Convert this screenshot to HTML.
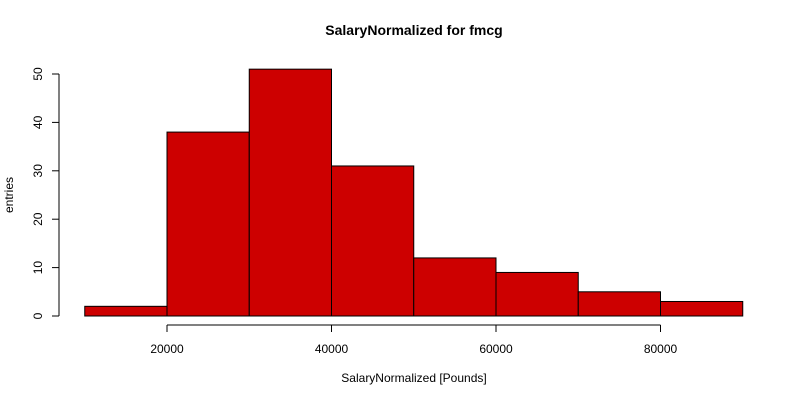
<!DOCTYPE html>
<html><head><meta charset="utf-8"><style>body{margin:0;background:#fff}svg{display:block;font-family:"Liberation Sans",sans-serif}</style></head>
<body>
<svg id="chart" width="800" height="400" xmlns="http://www.w3.org/2000/svg">
<text x="414" y="35" text-anchor="middle" font-size="14" font-weight="bold">SalaryNormalized for fmcg</text>
<text x="414" y="382" text-anchor="middle" font-size="12">SalaryNormalized [Pounds]</text>
<text transform="translate(13,195) rotate(-90)" text-anchor="middle" font-size="12">entries</text>
<g id="bars"></g><g id="xaxis"></g><g id="yaxis"></g>
</svg>
<script>
const binStarts=[10000,20000,30000,40000,50000,60000,70000,80000];
const binWidth=10000;
const counts=[2,38,51,31,12,9,5,3];
const xTicks=[20000,40000,60000,80000];
const yTicks=[0,10,20,30,40,50];
const NS="http://www.w3.org/2000/svg";
const x=v=>167+(v-20000)*(164.5/20000);
const y=v=>316-v*4.84;
function mk(t,a,p){const e=document.createElementNS(NS,t);for(const k in a)e.setAttribute(k,a[k]);p.appendChild(e);return e;}
const bars=document.getElementById('bars');
binStarts.forEach((s,i)=>{
 const r=mk('rect',{x:x(s),y:y(counts[i]),width:x(s+binWidth)-x(s),height:y(0)-y(counts[i]),fill:'#cd0000',stroke:'#000','stroke-width':1},bars);
 
 
});
const xa=document.getElementById('xaxis');
mk('line',{x1:x(xTicks[0]),x2:x(xTicks[xTicks.length-1]),y1:325,y2:325,stroke:'#000'},xa);
xTicks.forEach(t=>{
 mk('line',{x1:x(t),x2:x(t),y1:325,y2:332,stroke:'#000'},xa);
 const tx=mk('text',{x:x(t),y:353,'text-anchor':'middle','font-size':12},xa);tx.textContent=t;
 
 
});
const ya=document.getElementById('yaxis');
mk('line',{x1:59,x2:59,y1:y(0),y2:y(50),stroke:'#000'},ya);
yTicks.forEach(t=>{
 mk('line',{x1:52,x2:59,y1:y(t),y2:y(t),stroke:'#000'},ya);
 const tx=mk('text',{transform:`translate(42,${y(t)}) rotate(-90)`,'text-anchor':'middle','font-size':12},ya);tx.textContent=t;
 
 
});
</script>
</body></html>
